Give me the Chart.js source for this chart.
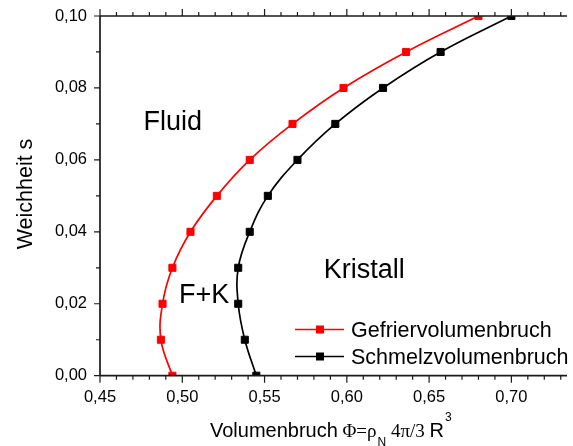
<!DOCTYPE html>
<html><head><meta charset="utf-8">
<script src="https://cdn.jsdelivr.net/npm/chart.js@4/dist/chart.umd.min.js"></script>
<style>html,body{margin:0;padding:0;background:#fff;overflow:hidden}canvas{display:block}</style>
</head><body>
<canvas id="c" width="573" height="446"></canvas>
<script>
// ---- data ----
const softness = [0.00, 0.01, 0.02, 0.03, 0.04, 0.05, 0.06, 0.07, 0.08, 0.09, 0.10];
const freezingFraction = [0.494, 0.487, 0.488, 0.494, 0.505, 0.521, 0.541, 0.567, 0.598, 0.636, 0.680];
const meltingFraction  = [0.545, 0.538, 0.534, 0.534, 0.541, 0.552, 0.570, 0.593, 0.622, 0.657, 0.700];
const seriesNames = ['Gefriervolumenbruch', 'Schmelzvolumenbruch'];
const xTickValues = [0.45, 0.50, 0.55, 0.60, 0.65, 0.70];
const yTickValues = [0.00, 0.02, 0.04, 0.06, 0.08, 0.10];
const regionLabels = ['Fluid', 'F+K', 'Kristall'];
const regionAnchorX = [0.4764, 0.498, 0.586];
const regionAnchorY = [0.0683, 0.0202, 0.0271];

const sans = "'Liberation Sans', Arial, sans-serif";
const serif = "'Liberation Serif', 'Times New Roman', serif";
const fmt = v => Number(v).toFixed(2).replace('.', ',');
const axisColor = '#1a1a1a';

const decor = {
  id: 'decor',
  afterDatasetsDraw(chart) {
    const ctx = chart.ctx, xs = chart.scales.x, ys = chart.scales.y, a = chart.chartArea;
    ctx.save();
    ctx.strokeStyle = axisColor;
    ctx.lineWidth = 1.7;
    ctx.beginPath();
    ctx.moveTo(a.left, a.top); ctx.lineTo(a.left, a.bottom);
    ctx.moveTo(a.left, a.bottom); ctx.lineTo(a.right, a.bottom);
    ctx.moveTo(a.left, a.top); ctx.lineTo(a.right, a.top);
    ctx.stroke();
    ctx.lineWidth = 1.2;
    ctx.beginPath();
    for (let k = 45; k <= 73; k++) {
      const px = xs.getPixelForValue(k / 100);
      const major = k % 5 === 0;
      const L = major ? 7 : 4;
      ctx.moveTo(px, a.bottom); ctx.lineTo(px, a.bottom + L);
      ctx.moveTo(px, a.top); ctx.lineTo(px, a.top - L);
    }
    for (let k = 0; k <= 10; k++) {
      const py = ys.getPixelForValue(k / 100);
      const L = k % 2 === 0 ? 6 : 4;
      ctx.moveTo(a.left, py); ctx.lineTo(a.left - L, py);
    }
    ctx.stroke();
    ctx.restore();
  },
  afterDraw(chart) {
    const ctx = chart.ctx, xs = chart.scales.x, ys = chart.scales.y;
    ctx.save();
    ctx.fillStyle = '#000';
    ctx.textBaseline = 'alphabetic';
    ctx.textAlign = 'left';
    ctx.font = '27px ' + sans;
    regionLabels.forEach((t, i) => {
      ctx.fillText(t, xs.getPixelForValue(regionAnchorX[i]), ys.getPixelForValue(regionAnchorY[i]));
    });
    const ds = chart.data.datasets;
    const rows = [329.5, 356.5];
    ds.forEach((d, i) => {
      const y = rows[i];
      ctx.strokeStyle = d.borderColor; ctx.lineWidth = 1.6;
      ctx.beginPath(); ctx.moveTo(295, y); ctx.lineTo(344, y); ctx.stroke();
      ctx.fillStyle = d.borderColor;
      ctx.fillRect(316, y - 4, 8, 8);
      ctx.fillStyle = '#000';
      ctx.font = '21.5px ' + sans;
      ctx.fillText(d.label, 351, y + 7.5);
    });
    ctx.save();
    ctx.translate(31.5, 194);
    ctx.rotate(-Math.PI / 2);
    ctx.textAlign = 'center';
    ctx.font = '21.5px ' + sans;
    ctx.fillText('Weichheit s', 0, 0);
    ctx.restore();
    const base = 436.5;
    let x = 210;
    const seg = (t, font, dy, gap) => {
      ctx.font = font; ctx.fillText(t, x, base + dy); x += ctx.measureText(t).width + (gap || 0);
    };
    seg('Volumenbruch ', '20px ' + sans, 0, -1);
    seg('\u03A6=\u03C1', '19px ' + serif, 0, 1);
    seg('N', '12px ' + sans, 9, 0);
    seg(' 4\u03C0/3 ', '19px ' + serif, 0, 0);
    seg('R', '20px ' + sans, 0, 1);
    seg('3', '12px ' + sans, -16, 0);
    ctx.restore();
  }
};

const mk = (vals) => softness.map((s, i) => ({ x: vals[i], y: s }));
const zeroPad = s => { s.paddingTop = 0; s.paddingBottom = 0; s.paddingLeft = 0; s.paddingRight = 0; };

new Chart(document.getElementById('c'), {
  type: 'scatter',
  data: {
    datasets: [
      { label: seriesNames[0], data: mk(freezingFraction), borderColor: '#ff0000', backgroundColor: '#ff0000',
        showLine: true, tension: 0.4, borderWidth: 1.7, pointStyle: 'rect', pointRadius: 5, pointBorderWidth: 1,
        pointBorderColor: '#ff0000', pointHoverRadius: 5, clip: 0 },
      { label: seriesNames[1], data: mk(meltingFraction), borderColor: '#000000', backgroundColor: '#000000',
        showLine: true, tension: 0.4, borderWidth: 1.7, pointStyle: 'rect', pointRadius: 5, pointBorderWidth: 1,
        pointBorderColor: '#000000', pointHoverRadius: 5, clip: 0 }
    ]
  },
  options: {
    responsive: false, animation: false, devicePixelRatio: 1, events: [],
    layout: { padding: { top: 16, right: 0, left: 0, bottom: 0 } },
    plugins: { legend: { display: false }, tooltip: { enabled: false } },
    scales: {
      x: {
        type: 'linear', min: 0.45, max: 0.7338,
        afterBuildTicks: s => { s.ticks = xTickValues.map(v => ({ value: v })); },
        afterFit: s => { s.height = 70.3; zeroPad(s); },
        grid: { display: false, drawTicks: false }, border: { display: false },
        ticks: { font: { family: sans, size: 16.5 }, color: '#000', padding: 12, maxRotation: 0, autoSkip: false, callback: v => fmt(v) }
      },
      y: {
        type: 'linear', min: 0, max: 0.1,
        afterBuildTicks: s => { s.ticks = yTickValues.map(v => ({ value: v })); },
        afterFit: s => { s.width = 100; zeroPad(s); },
        grid: { display: false, drawTicks: false }, border: { display: false },
        ticks: { font: { family: sans, size: 16.5 }, color: '#000', padding: 13, autoSkip: false, callback: v => fmt(v) }
      }
    }
  },
  plugins: [decor]
});
</script>
</body></html>
